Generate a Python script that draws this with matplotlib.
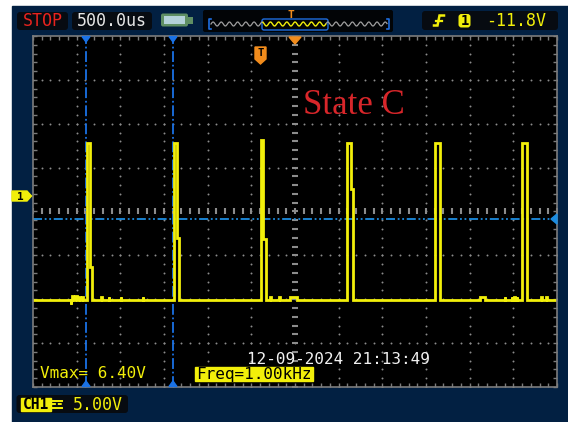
import numpy as np
import matplotlib.pyplot as plt
from matplotlib.patches import FancyBboxPatch, Polygon, Rectangle
from matplotlib.ticker import FixedLocator

W, H = 568, 422

# scope settings
TIME_DIV = 0.5      # ms per division
VOLT_DIV = 5.0      # V per division
GND_DIV = 0.353     # CH1 ground marker, divisions above screen centre
N_HDIV, N_VDIV = 12, 8

# graticule position on the screen (pixels)
GX0, GX1, GY0, GY1 = 33, 557, 36, 387

# CH1 pulse train (ms / V)
rise_ms = [-2.382, -1.382, -0.392, 0.599, 1.607, 2.600]
fall_ms = [-2.347, -1.351, -0.363, 0.641, 1.660, 2.654]
settle_ms = [-2.325, -1.328, -0.332, 0.667, 1.660, 2.654]
high_v = [6.0, 6.0, 6.4, 6.0, 6.0, 6.0]
shoulder_v = [-8.1, -4.8, -4.9, 0.8, -11.85, -11.85]
low_v = -11.85

# small glitches riding on the low level: centre (ms), width (ms), height (V)
glitch_ms = [-2.565, -2.550, -2.508, -2.467, -2.428, -2.213, -2.130, -1.992,
             -1.740, -0.278, -0.180, -0.017, 2.147, 2.405, 2.485, 2.515,
             2.542, 2.825, 2.882]
glitch_w = [0.01, 0.01, 0.015, 0.015, 0.012, 0.01, 0.01, 0.01,
            0.01, 0.01, 0.01, 0.08, 0.06, 0.01, 0.01, 0.01,
            0.01, 0.01, 0.01]
glitch_v = [-0.4, 0.4, 0.4, 0.35, 0.35, 0.3, 0.3, 0.3,
            0.3, 0.35, 0.3, 0.35, 0.3, 0.3, 0.3, 0.3,
            0.3, 0.3, 0.3]

# cursors
cursor_t = [-2.393, -1.397]
cursor_v = -2.62

NAVY = '#022042'
BOX = '#070b11'
YEL = '#f2ef0a'
ORANGE = '#f28c1c'
BLUE = '#1a72e6'
MONO = 'DejaVu Sans Mono'

fig = plt.figure(figsize=(W / 100, H / 100), dpi=100, facecolor='white')

# background panel
bg = fig.add_axes([0, 0, 1, 1])
bg.set_xlim(0, W)
bg.set_ylim(H, 0)
bg.axis('off')
bg.add_patch(Rectangle((12, 6), W - 12, H - 6, color=NAVY))

# graticule / trace axes
ax = fig.add_axes([GX0 / W, (H - GY1) / H, (GX1 - GX0) / W, (GY1 - GY0) / H])
ax.set_facecolor('black')
t_half = N_HDIV / 2 * TIME_DIV
v_mid = -GND_DIV * VOLT_DIV
v_half = N_VDIV / 2 * VOLT_DIV
ax.set_xlim(-t_half, t_half)
ax.set_ylim(v_mid - v_half, v_mid + v_half)

xs_fine = np.arange(-t_half, t_half + 1e-9, TIME_DIV / 5)
ys_fine = np.arange(v_mid - v_half, v_mid + v_half + 1e-9, VOLT_DIV / 5)
ax.xaxis.set_major_locator(FixedLocator(xs_fine))
ax.yaxis.set_major_locator(FixedLocator(ys_fine))
ax.tick_params(direction='in', length=3, width=1, color='#7c7c7c',
               top=True, right=True, labelbottom=False, labelleft=False)
for s in ax.spines.values():
    s.set_color('#7c7c7c')
    s.set_linewidth(1.2)

dot = dict(ls='none', marker='o', ms=1.4, color='#8c8c8c', mec='none')
for k in range(1, N_HDIV):
    x = -t_half + k * TIME_DIV
    if k == N_HDIV // 2:
        ax.plot(np.full_like(ys_fine, x), ys_fine, ls='none', marker='_',
                ms=5, mew=1.5, color='#8c8c8c')
    else:
        ax.plot(np.full_like(ys_fine, x), ys_fine, **dot)
for k in range(1, N_VDIV):
    y = v_mid - v_half + k * VOLT_DIV
    if k == N_VDIV // 2:
        ax.plot(xs_fine, np.full_like(xs_fine, y), ls='none', marker='|',
                ms=5, mew=1.5, color='#8c8c8c')
    else:
        ax.plot(xs_fine, np.full_like(xs_fine, y), **dot)

# cursors
for ct in cursor_t:
    ax.axvline(ct, color=BLUE, lw=1.3, ls=(0, (6, 1.5, 1, 1.5)))
ax.axhline(cursor_v, color='#1c8ce0', lw=1.3, ls=(0, (5, 1.5, 1, 1.5, 1, 1.5)))

# build the CH1 trace as a step sequence
pts = [(-t_half, low_v)]
for c, w, dv in zip(glitch_ms, glitch_w, glitch_v):
    pts += [(c - w / 2, low_v + dv), (c + w / 2, low_v)]
for r, f, s, hv, sv in zip(rise_ms, fall_ms, settle_ms, high_v, shoulder_v):
    pts += [(r, hv), (f, sv), (s, low_v)]
pts.sort(key=lambda p: p[0])
pts.append((t_half, low_v))
tt, vv = zip(*pts)
ax.plot(tt, vv, drawstyle='steps-post', color=YEL, lw=2.0,
        solid_joinstyle='miter')


def px_x(t):
    return GX0 + (t + t_half) / (2 * t_half) * (GX1 - GX0)


def px_y(v):
    return GY1 - (v - (v_mid - v_half)) / (2 * v_half) * (GY1 - GY0)


# overlay for markers and readouts
ui = fig.add_axes([0, 0, 1, 1])
ui.set_xlim(0, W)
ui.set_ylim(H, 0)
ui.axis('off')
ui.patch.set_alpha(0)


def box(x0, y0, x1, y1, color=BOX, r=3, **kw):
    ui.add_patch(FancyBboxPatch((x0, y0), x1 - x0, y1 - y0,
                                boxstyle=f'round,pad=0,rounding_size={r}',
                                fc=color, ec='none', **kw))


# top status bar
box(17, 12, 68, 30)
ui.text(42.5, 21.5, 'STOP', color='#e8231e', fontsize=12, family=MONO,
        ha='center', va='center')
box(72, 12, 152, 30)
ui.text(112, 21.5, '500.0us', color='#e6e6e6', fontsize=12, family=MONO,
        ha='center', va='center')
# battery
ui.add_patch(FancyBboxPatch((161, 13.5), 27, 13, boxstyle='round,pad=0,rounding_size=2',
                            fc='#5f8f64', ec='none'))
ui.add_patch(Rectangle((164, 16), 21, 8, fc='#b4d2da', ec='none'))
ui.add_patch(Rectangle((188, 16.5), 4.5, 7, fc='#5f8f64', ec='none'))

# memory overview
box(203, 10, 393, 32, color='#020406', r=2)
wx = np.linspace(211, 387, 400)
wy = 24 - 2.0 * np.sin((wx - 211) / 8.2 * 2 * np.pi)
sel = (wx >= 263) & (wx <= 326)
ui.plot(np.where(sel, np.nan, wx), wy, color='#a0a0a0', lw=0.9)
ui.plot(np.where(sel, wx, np.nan), wy, color=YEL, lw=1.0)
ui.add_patch(FancyBboxPatch((262, 19), 66, 11, boxstyle='round,pad=0,rounding_size=2',
                            fc='none', ec='#1e6ee0', lw=1.0))
for bx, d in [(209, 1), (389, -1)]:
    ui.plot([bx + 2 * d, bx, bx, bx + 2 * d], [19, 19, 29, 29], color='#1e6ee0', lw=1.2)
ui.text(290.5, 15.5, 'T', color=ORANGE, fontsize=8, fontweight='bold',
        family=MONO, ha='center', va='center')

# trigger readout: rising-edge icon, source and level
box(422, 11, 558, 30)
ui.plot([434, 437.5, 439.5, 444], [25.5, 25.5, 15.5, 15.5], color=YEL, lw=1.8,
        solid_joinstyle='miter')
ui.plot([436, 442], [20.5, 20.5], color=YEL, lw=1.6)
box(458.5, 14, 470.5, 27.5, color=YEL, r=3)
ui.text(464.5, 21, '1', color='black', fontsize=10, fontweight='bold',
        family=MONO, ha='center', va='center')
ui.text(486, 21.5, '-11.8V', color=YEL, fontsize=12, family=MONO,
        ha='left', va='center')

# trigger position marker and trigger label
ui.add_patch(Polygon([(289, 37), (301, 37), (295, 44)], color=ORANGE))
ui.add_patch(Polygon([(255, 47), (266, 47), (266, 59), (260.5, 64), (255, 59)],
                     color=ORANGE))
ui.text(260.5, 53.5, 'T', color='black', fontsize=7.5, fontweight='bold',
        family=MONO, ha='center', va='center')

# channel ground marker
gy = px_y(0)
ui.add_patch(Polygon([(12, gy - 5), (27, gy - 5), (31.5, gy), (27, gy + 5), (12, gy + 5)],
                     color=YEL))
ui.text(20, gy + 0.5, '1', color='black', fontsize=8, fontweight='bold',
        family=MONO, ha='center', va='center')

# cursor end markers
for ct in cursor_t:
    cx = px_x(ct)
    ui.add_patch(Polygon([(cx - 4, GY0 + 0.5), (cx + 4, GY0 + 0.5), (cx, GY0 + 6)], color=BLUE))
    ui.add_patch(Polygon([(cx - 4, GY1 - 0.5), (cx + 4, GY1 - 0.5), (cx, GY1 - 6)], color=BLUE))
cy = px_y(cursor_v)
ui.add_patch(Polygon([(GX1, cy - 5), (GX1, cy + 5), (GX1 - 6, cy)], color='#1c8ce0'))

# caption
ui.text(303, 106, 'State C', color='#d8262a', fontsize=25,
        family='Liberation Serif', ha='left', va='center')

# measurement readouts
ui.text(247, 359, '12-09-2024 21:13:49', color='#f0f0f0', fontsize=11.5,
        family=MONO, ha='left', va='center')
ui.text(40, 373.5, 'Vmax= 6.40V', color=YEL, fontsize=11.5, family=MONO,
        ha='left', va='center')
ui.add_patch(Rectangle((195, 367), 118, 14, color=YEL))
ui.text(254, 374.5, 'Freq=1.00kHz', color='black', fontsize=11.5, family=MONO,
        ha='center', va='center')

# channel scale
box(16.5, 395, 128, 413)
ui.add_patch(Rectangle((20.5, 397.5), 30, 13, color=YEL))
ui.text(35.5, 404.5, 'CH1', color='black', fontsize=10.5, fontweight='bold',
        family=MONO, ha='center', va='center')
ui.plot([52, 62], [400.5, 400.5], color=YEL, lw=1.4)
ui.plot([52, 62], [404, 404], color=YEL, lw=1.4, ls=(0, (2, 1)))
ui.plot([52, 62], [407.5, 407.5], color=YEL, lw=1.4)
ui.text(73, 404.5, '5.00V', color=YEL, fontsize=12, family=MONO,
        ha='left', va='center')

fig.savefig('out.png', dpi=100, facecolor='white')
